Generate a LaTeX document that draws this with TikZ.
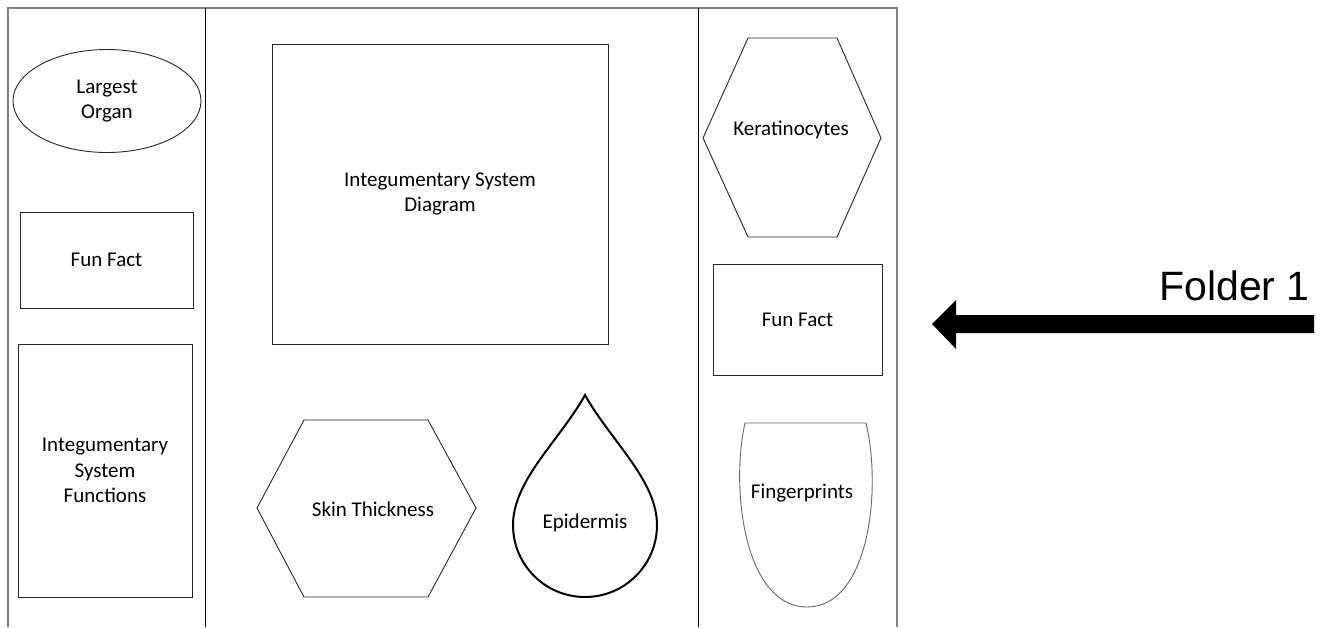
\documentclass[tikz,border=0pt]{standalone}
\usepackage{fontspec}
\setmainfont{Carlito}
\newfontfamily\folderfont{Liberation Sans}
\usetikzlibrary{shapes.geometric}
\begin{document}
\begin{tikzpicture}[x=1pt,y=-1pt,
  frame/.style={draw=black!50,line width=1.6pt},
  divider/.style={draw=black,line width=1pt},
  shapeline/.style={draw=black!85,line width=0.9pt},
  lbl/.style={align=center,inner sep=0pt,font=\fontsize{21}{25.6}\selectfont},
  boxnode/.style={shapeline,rectangle,inner sep=0pt,align=center,font=\fontsize{21}{25.6}\selectfont}
]
\useasboundingbox (0,0) rectangle (1324,627);
% frame and dividers
\draw[frame] (8,627) -- (8,8) -- (897,8) -- (897,627);
\draw[divider] (205,8) -- (205,627);
\draw[divider] (698,8) -- (698,627);

% left column
\node[shapeline,ellipse,minimum width=188pt,minimum height=103pt,inner sep=0pt,align=center,font=\fontsize{21}{25.6}\selectfont] (organ) at (107,101) {Largest\\Organ};
\node[boxnode,minimum width=173pt,minimum height=96pt] (funL) at (106.5,260) {Fun Fact};
\node[boxnode,minimum width=174pt,minimum height=253pt] (func) at (105,470.5) {Integumentary\\System\\Functions};

% middle column
\node[boxnode,minimum width=336pt,minimum height=300pt] (diag) at (440,194) {Integumentary System\\Diagram};
\draw[shapeline] (304,420) -- (428,420) -- (476,508) -- (428,597) -- (304,597) -- (257,508) -- cycle;
\node[lbl] (skin) at (373,509) {Skin Thickness};
\draw[draw=black,line width=2pt] (585,395) .. controls (560,440) and (513,480) .. (513,525)
  .. controls (513,564.8) and (545.2,597) .. (585,597)
  .. controls (624.8,597) and (657,564.8) .. (657,525)
  .. controls (657,480) and (610,440) .. (585,395) -- cycle;
\node[lbl] (epi) at (585,523) {Epidermis};

% right column
\draw[shapeline] (748,38) -- (837,38) -- (881,138) -- (837,237) -- (748,237) -- (703,138) -- cycle;
\node[lbl] (kera) at (791,130) {Keratinocytes};
\node[boxnode,minimum width=169pt,minimum height=111pt] (funR) at (797.5,319.5) {Fun Fact};
\draw[draw=black!60,line width=0.9pt] (745,423) -- (866,423)
  .. controls (882,490) and (869,607) .. (807,607)
  .. controls (745,607) and (730,490) .. (745,423) -- cycle;
\node[lbl] (finger) at (802,493) {Fingerprints};

% arrow and label
\fill[black] (1314,315) -- (956,315) -- (956,300) -- (932,324) -- (956,349) -- (956,333) -- (1314,333) -- cycle;
\node[anchor=base east,inner sep=0pt,font=\folderfont\fontsize{41}{48}\selectfont] (folder) at (1310,300) {Folder 1};
\end{tikzpicture}
\end{document}
